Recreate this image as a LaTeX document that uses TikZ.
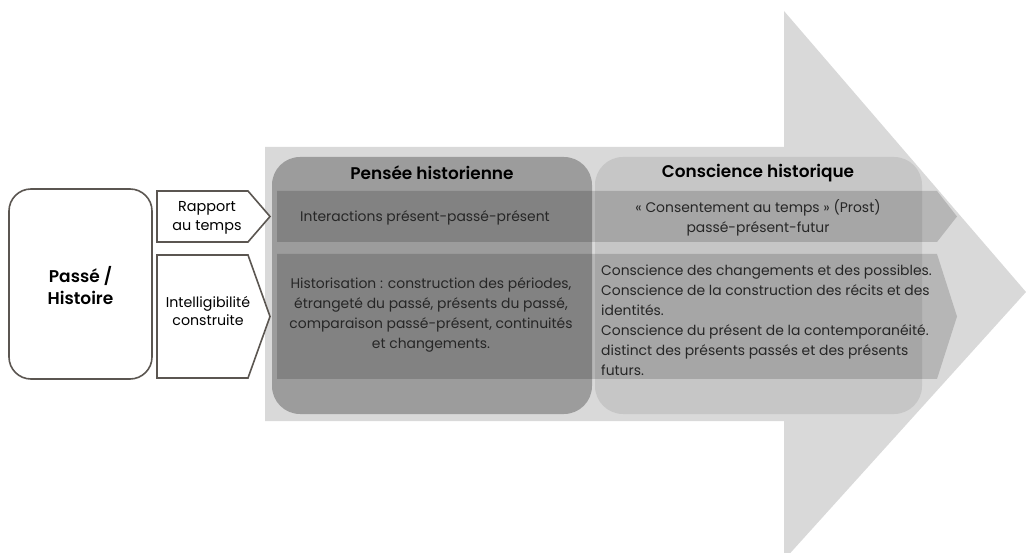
\documentclass[tikz,border=0pt]{standalone}
\usepackage{fontspec}
\setmainfont{Poppins}[BoldFont={Poppins SemiBold}]
\begin{document}
\begin{tikzpicture}[x=1pt,y=-1pt,
  outl/.style={draw=outlc,line width=1.6pt,fill=white},
  band/.style={fill=black,fill opacity=0.16},
  body/.style={font=\fontsize{13.9}{20}\selectfont,text=black!85,inner sep=0pt},
  head/.style={font=\fontsize{16.9}{20}\selectfont\bfseries,inner sep=0pt},
  lab/.style={font=\fontsize{14.4}{19}\selectfont,align=center,inner sep=0pt}]
\definecolor{outlc}{HTML}{5B5651}
\definecolor{arrowc}{HTML}{D9D9D9}
\definecolor{phc}{HTML}{9C9C9C}
\definecolor{chc}{HTML}{C6C6C6}
\useasboundingbox (0,0) rectangle (1026,553);
\begin{scope}
\clip (0,0) rectangle (1026,553);
% big arrow
\fill[arrowc] (265,147) -- (784,147) -- (784,11) -- (1026,292) -- (784,560) -- (784,421) -- (265,421) -- cycle;
\end{scope}
% columns
\fill[phc,rounded corners=28pt] (272,157) rectangle (592,414);
\fill[chc,rounded corners=28pt] (595,157) rectangle (922,414);
% bands
\fill[band] (277,191) -- (937,191) -- (957,216.5) -- (937,242) -- (277,242) -- cycle;
\fill[band] (277,254) -- (937,254) -- (957,316.5) -- (937,379) -- (277,379) -- cycle;
% left shapes
\draw[outl,rounded corners=22pt] (9,189) rectangle (152,379);
\draw[outl] (157,191) -- (248,191) -- (270,216.5) -- (248,242) -- (157,242) -- cycle;
\draw[outl] (157,255) -- (248,255) -- (270,316.5) -- (248,378) -- (157,378) -- cycle;
% texts
\node[font=\fontsize{17}{22}\selectfont\bfseries,align=center,inner sep=0pt] (passe) at (80.5,286) {Passé /\\Histoire};
\node[lab] (rapport) at (207,217.5) {Rapport\\au temps};
\node[lab,font=\fontsize{14.2}{18}\selectfont] (intel) at (208,311.5) {Intelligibilité\\construite};
\node[head] (ph) at (432,173) {Pensée historienne};
\node[head] (ch) at (758,173) {Conscience historique};
\node[body] (inter) at (425,218) {Interactions présent-passé-présent};
\node[body,align=center] (prost) at (758,217.5) {« Consentement au temps » (Prost)\\passé-présent-futur};
\node[body,align=center] (histo) at (431,315) {Historisation : construction des périodes,\\étrangeté du passé, présents du passé,\\comparaison passé-présent, continuités\\et changements.};
\node[body,align=left,anchor=north west] (consc) at (601,265) {Conscience des changements et des possibles.\\Conscience de la construction des récits et des\\identités.\\Conscience du présent de la contemporanéité.\\distinct des présents passés et des présents\\futurs.};
\end{tikzpicture}
\end{document}
